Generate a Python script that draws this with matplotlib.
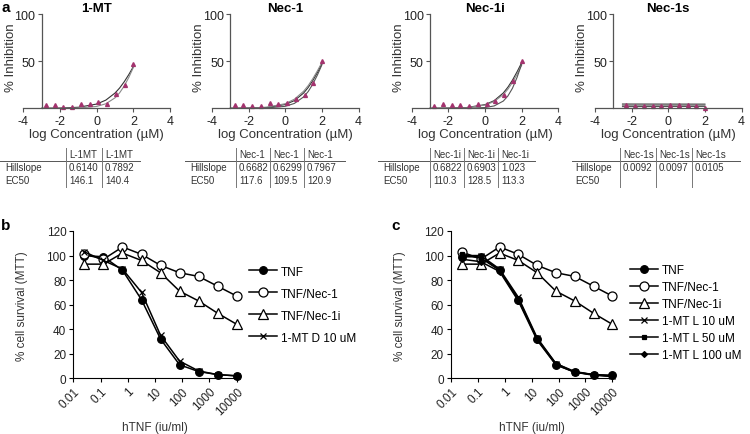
import numpy as np
import matplotlib
matplotlib.use("Agg")
import matplotlib.pyplot as plt
from matplotlib.lines import Line2D

plt.rcParams["font.family"] = ["Liberation Sans", "DejaVu Sans"]
plt.rcParams["axes.unicode_minus"] = False

# -------------------------------
# DATA: PANEL a (inhibition curves)
# -------------------------------
drug_names = ["1-MT", "Nec-1", "Nec-1i", "Nec-1s"]
conc_log = [-2.77, -2.29, -1.82, -1.34, -0.86, -0.39, 0.09, 0.57, 1.05, 1.52, 2.0]

inhib_1mt = [4, 4, 1.5, 1.5, 5, 4.5, 7, 5, 15, 25, 47]
inhib_nec1 = [4, 4, 2, 2, 6, 5, 6, 10, 14, 27, 50]
inhib_nec1i = [2, 5, 3.5, 3, 2, 5, 5, 8, 14, 29, 50]
inhib_nec1s = [np.nan, 4, 2.5, 2.5, 2.5, 2.5, 3, 3, 3, 2.5, 0.5]

# fitted curves
fit_x = [-3, -2, -1, 0, 0.5, 1, 1.25, 1.5, 1.75, 2]
fit_1mt = [[0.1, 0.3, 1.1, 4.5, 8.7, 16.2, 21.5, 28.1, 35.7, 44.2],
           [0.0, 0.05, 0.3, 2.0, 4.8, 11.1, 16.4, 23.6, 32.7, 43.3]]
fit_nec1 = [[0.0, 0.2, 0.9, 4.0, 8.2, 16.2, 22.1, 29.4, 37.9, 47.3],
            [0.1, 0.3, 1.2, 4.9, 9.7, 18.1, 24.1, 31.4, 39.7, 48.6],
            [0.0, 0.05, 0.35, 2.1, 5.2, 12.1, 17.8, 25.6, 35.2, 46.2]]
fit_nec1i = [[0.0, 0.2, 0.8, 3.9, 8.1, 16.3, 22.4, 29.9, 38.7, 48.3],
             [0.0, 0.14, 0.7, 3.4, 7.2, 14.6, 20.3, 27.5, 36.1, 45.7],
             [0.0, 0.0, 0.08, 0.8, 2.5, 7.7, 13.1, 21.3, 32.8, 46.8]]
fit_x_nec1s = [-2.5, 2.0]
fit_nec1s = [[4.5, 4.4], [3.1, 3.2], [1.8, 2.0]]

# table under each small plot
tbl_head = [["L-1MT", "L-1MT"], ["Nec-1", "Nec-1", "Nec-1"],
            ["Nec-1i", "Nec-1i", "Nec-1i"], ["Nec-1s", "Nec-1s", "Nec-1s"]]
tbl_hill = [["0.6140", "0.7892"], ["0.6682", "0.6299", "0.7967"],
            ["0.6822", "0.6903", "1.023"], ["0.0092", "0.0097", "0.0105"]]
tbl_ec50 = [["146.1", "140.4"], ["117.6", "109.5", "120.9"],
            ["110.3", "128.5", "113.3"], ["", "", ""]]

# -------------------------------
# DATA: PANELS b and c (cell survival)
# -------------------------------
tnf_conc = [0.0256, 0.128, 0.64, 3.2, 16, 80, 400, 2000, 10000]

b_tnf = [100, 99, 88, 64, 32, 11, 5.5, 3, 2]
b_nec1 = [101, 97, 107, 101, 92, 86, 83, 75, 67]
b_nec1i = [93, 93, 102, 96, 86, 71, 63, 53, 44]
b_mtd10 = [103, 96, 89, 70, 35, 14, 6, 3, 2]
b_labels = ["TNF", "TNF/Nec-1", "TNF/Nec-1i", "1-MT D 10 uM"]

c_tnf = [99, 99, 88, 64, 32, 11, 5, 3, 2.5]
c_nec1 = [103, 97, 107, 101, 92, 86, 83, 75, 67]
c_nec1i = [93, 93, 102, 96, 86, 71, 63, 53, 44]
c_l10 = [100, 100, 89, 66, 33, 12, 5.5, 3, 1.5]
c_l50 = [101, 98, 88, 65, 32, 12, 5, 3, 2]
c_l100 = [97, 95, 87, 63, 31, 11, 5, 2.5, 1.5]
c_labels = ["TNF", "TNF/Nec-1", "TNF/Nec-1i", "1-MT L 10 uM", "1-MT L 50 uM", "1-MT L 100 uM"]

W, H = 750, 435
fig = plt.figure(figsize=(W / 100, H / 100), dpi=100)


def fx(px):
    return px / W


def fy(py):
    return 1 - py / H


# -------------------------------
# PANEL a
# -------------------------------
inhib_all = [inhib_1mt, inhib_nec1, inhib_nec1i, inhib_nec1s]
fits_all = [fit_1mt, fit_nec1, fit_nec1i, fit_nec1s]
fit_x_all = [fit_x, fit_x, fit_x, fit_x_nec1s]
a_left = [23.4, 212, 411.7, 595]
curve_cols = ["#333333", "#8a8a8a", "#555555"]
pt_col = "#a3336e"

for i, name in enumerate(drug_names):
    ax = fig.add_axes([fx(a_left[i]), fy(109.3), 146.6 / W, 94.3 / H])
    for j, ys in enumerate(fits_all[i]):
        ax.plot(fit_x_all[i], ys, color=curve_cols[j], lw=0.8)
    ax.plot(conc_log, inhib_all[i], ls="none", marker="^", ms=2.8, color=pt_col, clip_on=False)
    ax.set_xlim(-4, 4)
    ax.set_ylim(0, 100)
    ax.spines["top"].set_visible(False)
    ax.spines["right"].set_visible(False)
    ax.spines["left"].set_position(("data", -3))
    for s in ["left", "bottom"]:
        ax.spines[s].set_color("#555555")
        ax.spines[s].set_linewidth(0.9)
    ax.set_xticks([-4, -2, 0, 2, 4])
    ax.set_yticks([50, 100])
    ax.tick_params(labelsize=9, length=3, width=0.8, pad=1.5, colors="#555555", labelcolor="#222222")
    ax.set_title(name, fontsize=9.5, fontweight="bold", pad=2.5)
    ax.set_ylabel("% Inhibition", fontsize=9.5, color="#333333")
    ax.yaxis.set_label_coords(-0.045, 0.55)
    ax.set_xlabel("log Concentration (\u00b5M)", fontsize=9.5, color="#333333", labelpad=1)

fig.text(fx(1), fy(8), "a", fontsize=11, fontweight="bold", va="center")

# tables
tbl_label_x = [5, 190, 383, 575]
tbl_bars = [[66, 102], [236, 270, 304], [430, 464, 498], [620, 656, 692]]
tbl_line = [(0, 140), (185, 345), (378, 535), (572, 740)]
row_y = [155, 168, 181]
tsize = 7
tcol = "#333333"
for i in range(4):
    fig.add_artist(Line2D([fx(tbl_line[i][0]), fx(tbl_line[i][1])], [fy(161.5), fy(161.5)],
                          transform=fig.transFigure, color="#555555", lw=0.7))
    fig.text(fx(tbl_label_x[i]), fy(row_y[1]), "Hillslope", fontsize=tsize, va="center", color=tcol)
    fig.text(fx(tbl_label_x[i]), fy(row_y[2]), "EC50", fontsize=tsize, va="center", color=tcol)
    for k, bx in enumerate(tbl_bars[i]):
        fig.add_artist(Line2D([fx(bx), fx(bx)], [fy(149), fy(188)],
                              transform=fig.transFigure, color="#777777", lw=0.7))
        fig.text(fx(bx + 3), fy(row_y[0]), tbl_head[i][k], fontsize=tsize, va="center", color=tcol)
        fig.text(fx(bx + 3), fy(row_y[1]), tbl_hill[i][k], fontsize=tsize, va="center", color=tcol)
        fig.text(fx(bx + 3), fy(row_y[2]), tbl_ec50[i][k], fontsize=tsize, va="center", color=tcol)

# -------------------------------
# PANELS b and c
# -------------------------------
def survival_axes(left_px, right_px):
    ax = fig.add_axes([fx(left_px), fy(379.3), (right_px - left_px) / W, 147.3 / H])
    ax.set_xscale("log")
    ax.set_xlim(0.01, 10000)
    ax.set_ylim(0, 120)
    ax.spines["top"].set_visible(False)
    ax.spines["right"].set_visible(False)
    ax.set_yticks(range(0, 121, 20))
    ax.set_xticks([0.01, 0.1, 1, 10, 100, 1000, 10000])
    ax.set_xticklabels(["0.01", "0.1", "1", "10", "100", "1000", "10000"],
                       rotation=45, ha="right", va="top", rotation_mode="anchor")
    ax.minorticks_off()
    ax.tick_params(labelsize=8.5, length=3, width=0.8, pad=2, labelcolor="#222222")
    ax.set_ylabel("% cell survival (MTT)", fontsize=8.5, color="#333333")
    ax.yaxis.set_label_coords(-0.28, 0.5)
    ax.set_xlabel("hTNF (iu/ml)", fontsize=8.5, color="#333333", labelpad=3)
    return ax


def draw_series(ax, series, styles, labels):
    for ys, (mk, fc, ms), lab in zip(series, styles, labels):
        ax.plot(tnf_conc, ys, color="black", lw=1.1, marker=mk, mfc=fc, mec="black",
                ms=ms, mew=0.9, label=lab, clip_on=False)


ax_b = survival_axes(73.3, 236.7)
b_styles = [("o", "black", 5.5), ("o", "white", 6.5), ("^", "white", 6.5), ("x", "black", 5)]
draw_series(ax_b, [b_tnf, b_nec1, b_nec1i, b_mtd10], b_styles, b_labels)
ax_b.legend(loc="upper left", bbox_to_anchor=(fx(249), fy(266.5)), bbox_transform=fig.transFigure,
            frameon=False, fontsize=8.5, handlelength=2.4, handletextpad=0.3,
            borderpad=0, borderaxespad=0, labelspacing=0.85)

ax_c = survival_axes(451, 612.3)
c_styles = [("o", "black", 5.5), ("o", "white", 6.5), ("^", "white", 6.5),
            ("x", "black", 5), ("s", "black", 3.5), ("D", "black", 3)]
draw_series(ax_c, [c_tnf, c_nec1, c_nec1i, c_l10, c_l50, c_l100], c_styles, c_labels)
ax_c.legend(loc="upper left", bbox_to_anchor=(fx(630), fy(265)), bbox_transform=fig.transFigure,
            frameon=False, fontsize=8.5, handlelength=2.4, handletextpad=0.3,
            borderpad=0, borderaxespad=0, labelspacing=0.42)

fig.text(fx(1), fy(226), "b", fontsize=11, fontweight="bold", va="center")
fig.text(fx(391), fy(226), "c", fontsize=11, fontweight="bold", va="center")

fig.savefig("out.png", dpi=100)
